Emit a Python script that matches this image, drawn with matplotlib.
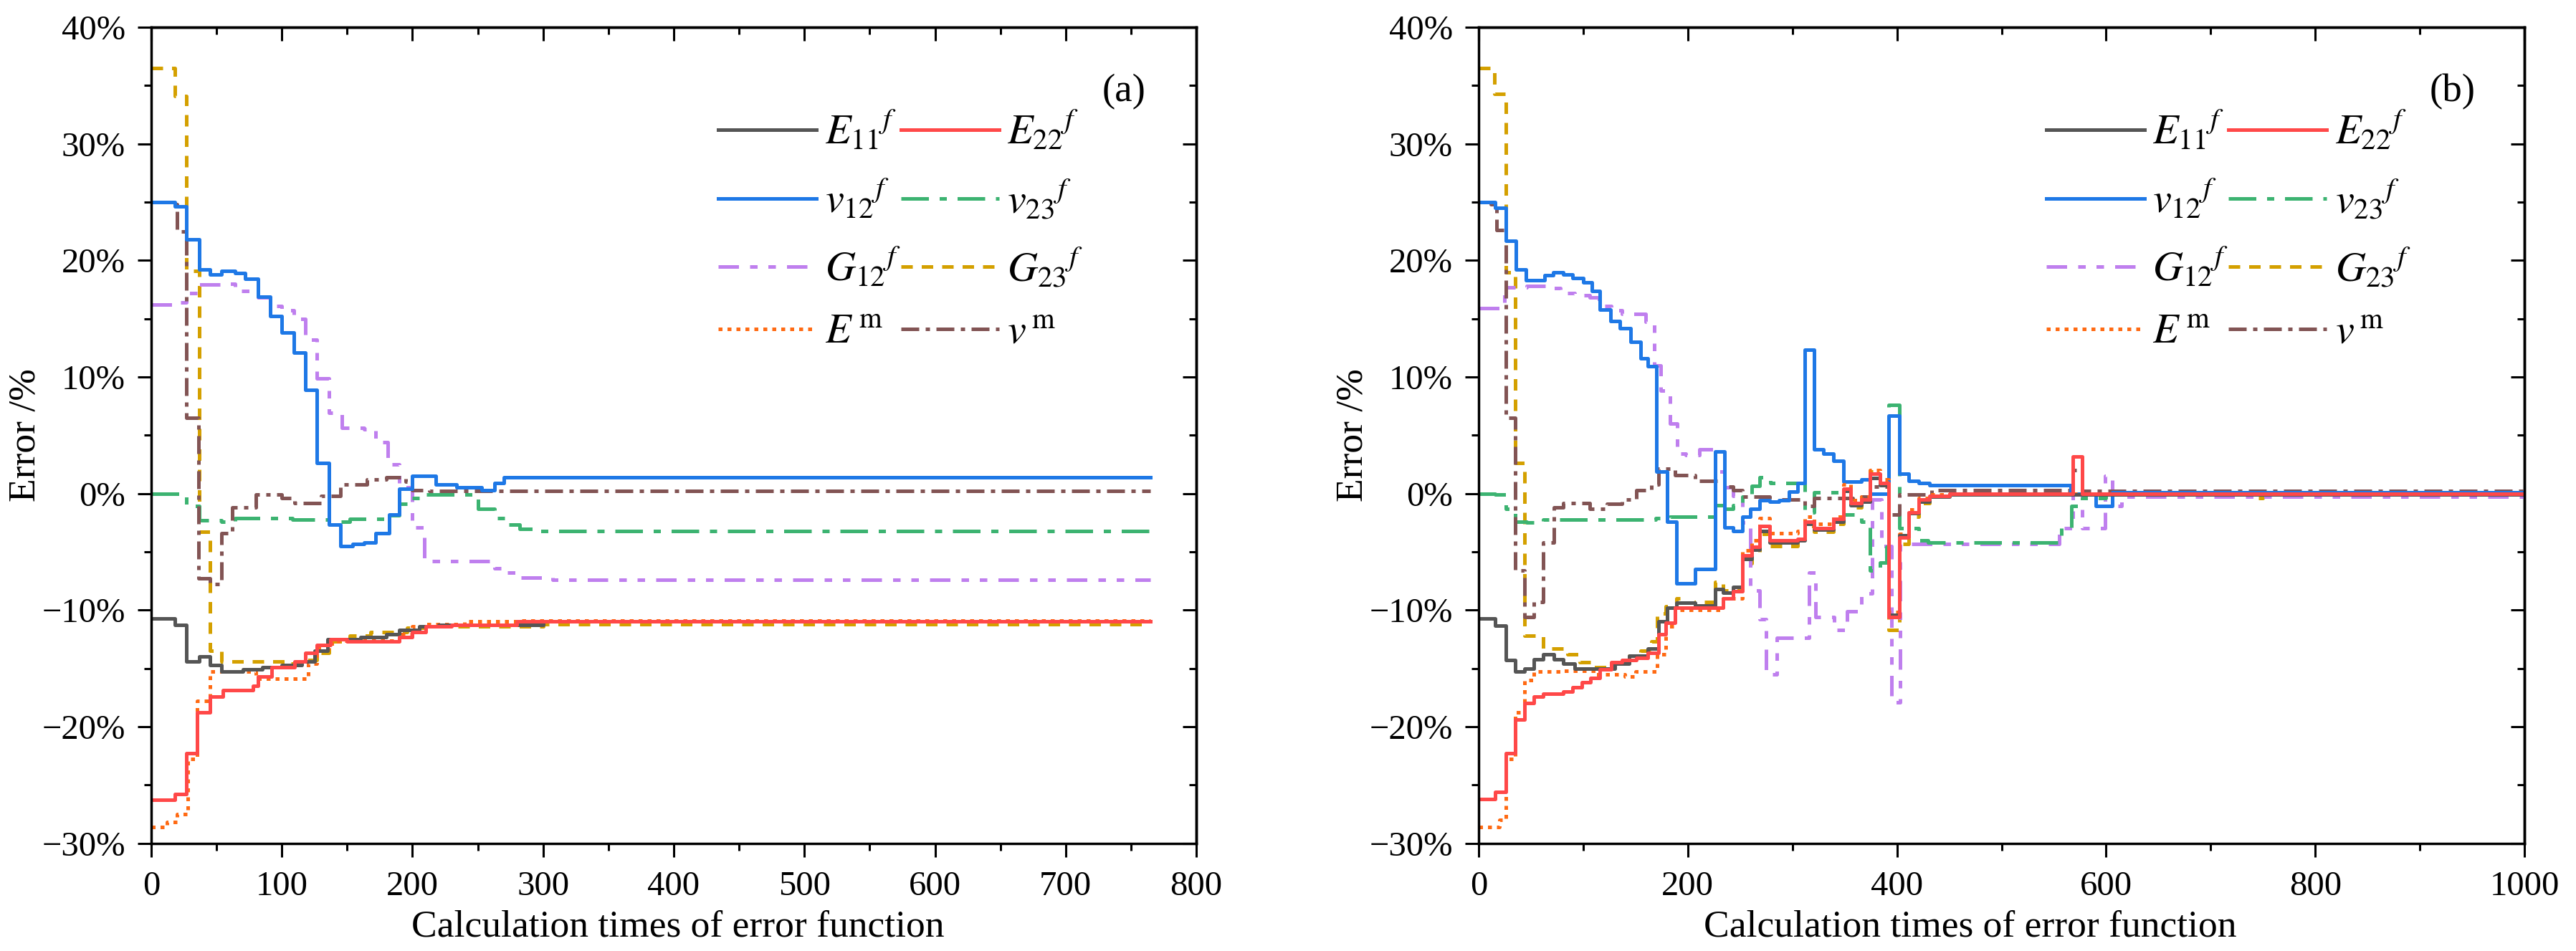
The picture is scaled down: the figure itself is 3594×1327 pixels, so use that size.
import matplotlib
matplotlib.use("Agg")
import matplotlib.pyplot as plt
from matplotlib.ticker import MultipleLocator, PercentFormatter, NullFormatter

plt.rcParams['font.family'] = 'serif'
plt.rcParams['font.serif'] = ['Liberation Serif', 'DejaVu Serif']
plt.rcParams['mathtext.fontset'] = 'stix'

# ---- panel (a) data: breakpoints of step curves (x = calculation count, y = error %)
a_E11_x = [0, 18, 27, 37, 45, 54, 70, 85, 100, 115, 125, 135, 160, 180, 190, 205, 220, 300, 765]
a_E11_y = [-10.7, -11.3, -14.4, -14.0, -14.7, -15.3, -15.1, -14.9, -14.7, -14.4, -13.5, -12.5, -12.3,
           -12.1, -11.7, -11.4, -11.3, -11.0, -11.0]

a_E22_x = [0, 18, 27, 35, 45, 55, 78, 82, 92, 110, 118, 127, 137, 150, 190, 200, 210, 230, 280, 765]
a_E22_y = [-26.3, -25.8, -22.3, -18.8, -17.4, -16.9, -16.5, -15.7, -14.9, -14.4, -13.7, -13.0, -12.5,
           -12.7, -12.3, -11.9, -11.4, -11.3, -11.0, -11.0]

a_v12_x = [0, 18, 27, 37, 45, 54, 64, 72, 82, 91, 100, 109, 118, 127, 136, 145, 154, 163, 172, 182,
           190, 200, 218, 234, 253, 263, 270, 765]
a_v12_y = [25.0, 24.6, 21.8, 19.2, 18.8, 19.1, 18.9, 18.4, 16.9, 15.2, 13.8, 12.1, 8.9, 2.6, -2.7, -4.5,
           -4.3, -4.2, -3.4, -1.8, 0.4, 1.5, 0.8, 0.5, 0.3, 0.9, 1.4, 1.4]

a_v23_x = [0, 27, 37, 54, 64, 108, 136, 152, 181, 190, 200, 209, 250, 263, 272, 282, 295, 765]
a_v23_y = [0.0, -1.1, -2.3, -2.4, -2.1, -2.25, -2.4, -2.2, -1.85, -0.9, -0.4, -0.1, -1.3, -2.1, -2.65,
           -3.05, -3.2, -3.2]

a_G12_x = [0, 20, 27, 37, 54, 64, 82, 91, 100, 109, 118, 127, 136, 146, 163, 172, 181, 190, 200, 209,
           263, 272, 282, 307, 765]
a_G12_y = [16.2, 16.4, 17.2, 17.9, 18.0, 17.4, 16.8, 16.1, 15.7, 15.0, 13.2, 9.9, 6.9, 5.6, 5.5, 4.4,
           2.5, 0.5, -2.9, -5.8, -6.4, -6.8, -7.2, -7.4, -7.4]

a_G23_x = [0, 18, 27, 37, 45, 54, 105, 117, 127, 136, 152, 168, 196, 209, 300, 765]
a_G23_y = [36.5, 34.1, 19.1, -3.3, -13.5, -14.4, -14.6, -14.3, -13.7, -12.7, -12.2, -11.9, -11.5,
           -11.4, -11.2, -11.2]

a_Em_x = [0, 12, 20, 28, 35, 45, 80, 120, 127, 136, 143, 190, 200, 209, 240, 280, 765]
a_Em_y = [-28.6, -28.2, -27.5, -22.8, -17.8, -15.3, -15.9, -14.6, -13.3, -12.9, -12.6, -12.1, -11.4,
          -11.2, -11.0, -10.9, -10.9]

a_vm_x = [0, 15, 20, 27, 36, 45, 54, 62, 80, 100, 110, 130, 145, 165, 180, 195, 200, 213, 765]
a_vm_y = [25.0, 24.8, 22.5, 6.5, -7.3, -7.8, -3.4, -1.2, -0.1, -0.4, -0.8, -0.2, 0.8, 1.2, 1.4, 1.0,
          0.3, 0.2, 0.2]

# ---- panel (b) data
b_E11_x = [0, 16, 26, 35, 44, 53, 62, 72, 81, 92, 116, 130, 144, 162, 172, 180, 189, 207, 226, 234,
           243, 252, 261, 269, 278, 305, 312, 321, 339, 349, 356, 366, 374, 384, 392, 402, 411, 421,
           431, 450, 1000]
b_E11_y = [-10.7, -11.35, -14.3, -15.3, -15.0, -14.2, -13.8, -14.2, -14.6, -15.0, -15.0, -14.6, -13.9,
           -13.3, -11.0, -9.8, -9.4, -9.6, -8.2, -8.5, -8.0, -5.6, -4.8, -3.2, -4.2, -4.0, -2.6, -3.1,
           -2.4, 0.2, -1.0, -0.7, 1.3, 0.7, -10.4, -3.6, -1.7, -0.7, -0.3, -0.1, 0.0]

b_E22_x = [0, 16, 26, 35, 44, 53, 62, 81, 90, 99, 107, 116, 127, 137, 151, 162, 172, 179, 188, 234,
           243, 252, 261, 269, 278, 305, 312, 321, 339, 349, 356, 366, 374, 384, 392, 402, 411, 421,
           431, 450, 568, 577, 1000]
b_E22_y = [-26.2, -25.6, -22.3, -19.4, -18.0, -17.4, -17.2, -17.0, -16.6, -16.2, -15.8, -15.1, -14.5,
           -14.3, -14.1, -13.7, -12.1, -11.1, -9.8, -9.0, -8.4, -5.3, -4.6, -2.8, -4.0, -3.9, -2.4,
           -3.0, -2.2, 0.4, -0.8, -0.5, 1.7, 0.9, -10.6, -3.8, -1.6, -0.5, -0.2, 0.0, 3.2, 0.0, 0.0]

b_v12_x = [0, 16, 26, 36, 45, 63, 71, 81, 90, 100, 108, 116, 126, 135, 145, 155, 162, 170, 180, 189,
           207, 226, 235, 243, 252, 260, 269, 278, 287, 297, 305, 312, 321, 330, 339, 349, 366, 374,
           392, 402, 411, 421, 431, 566, 590, 606, 1000]
b_v12_y = [25.0, 24.5, 21.7, 19.2, 18.3, 18.7, 19.0, 18.8, 18.5, 18.1, 17.4, 15.8, 14.8, 14.2, 13.0,
           11.6, 10.9, 1.9, -2.4, -7.7, -6.5, 3.6, -2.9, -3.2, -2.0, -1.3, -0.55, -0.7, -0.6, 0.15,
           0.9, 12.3, 3.8, 3.4, 2.8, 1.0, 1.2, 0.0, 6.7, 1.7, 1.1, 0.9, 0.7, 0.0, -1.1, 0.1, 0.0]

b_v23_x = [0, 16, 26, 35, 46, 62, 169, 183, 226, 235, 243, 252, 261, 269, 279, 305, 312, 321, 349,
           366, 374, 384, 390, 392, 402, 421, 430, 557, 567, 577, 600, 1000]
b_v23_y = [0.0, -0.1, -1.3, -2.4, -2.5, -2.25, -2.1, -2.0, -1.0, -1.3, -1.0, -0.3, 0.65, 1.4, 0.9,
           0.9, -1.6, 0.1, -1.8, -2.4, -6.6, -5.9, -4.6, 7.6, -3.0, -4.0, -4.2, -3.0, -1.1, -0.4,
           -0.1, -0.1]

b_G12_x = [0, 25, 46, 65, 78, 92, 106, 115, 127, 137, 160, 168, 174, 183, 190, 198, 211, 226, 235,
           243, 252, 260, 269, 275, 285, 316, 322, 340, 352, 366, 376, 385, 395, 403, 555, 568, 577,
           599, 606, 615, 1000]
b_G12_y = [15.9, 17.7, 17.8, 17.6, 17.2, 17.0, 16.8, 16.1, 15.7, 15.4, 14.7, 11.0, 8.8, 6.0, 3.4,
           3.3, 3.8, 1.9, 0.5, -0.2, -2.5, -8.3, -10.8, -15.5, -12.4, -6.8, -10.6, -11.7, -10.1,
           -8.6, -0.5, -4.5, -17.9, -4.3, -3.0, 2.9, -3.0, 1.5, -1.1, -0.3, -0.3]

b_G23_x = [0, 15, 26, 35, 44, 62, 85, 97, 109, 130, 144, 155, 165, 171, 179, 189, 198, 207, 226,
           234, 252, 261, 269, 278, 305, 312, 321, 339, 349, 356, 366, 374, 384, 392, 402, 411, 421,
           431, 450, 745, 750, 1000]
b_G23_y = [36.5, 34.3, 19.0, 2.6, -12.2, -13.3, -13.8, -14.5, -14.9, -14.5, -13.9, -13.5, -12.7,
           -10.3, -9.7, -9.0, -9.4, -9.3, -7.6, -8.3, -6.0, -5.2, -3.5, -4.5, -4.2, -2.8, -3.3, -2.6,
           0.0, -1.2, -0.4, 1.9, 0.8, -11.7, -4.3, -2.0, -0.8, -0.3, -0.1, -0.4, 0.0, 0.0]

b_Em_x = [0, 20, 26, 35, 44, 53, 81, 110, 140, 150, 171, 179, 188, 234, 252, 261, 269, 278, 305, 312,
          321, 339, 349, 356, 366, 374, 384, 392, 402, 411, 421, 431, 450, 1000]
b_Em_y = [-28.6, -28.0, -22.8, -18.8, -16.0, -15.3, -15.2, -15.5, -15.7, -15.3, -13.8, -11.4, -10.0,
          -9.0, -4.9, -4.0, -2.1, -3.4, -3.2, -2.0, -2.6, -2.0, 0.8, -0.6, -0.3, 2.0, 1.2, -10.2,
          -3.5, -1.4, -0.4, -0.1, 0.0, 0.0]

b_vm_x = [0, 12, 17, 26, 35, 44, 53, 62, 72, 81, 106, 123, 137, 151, 165, 172, 188, 207, 235, 243,
          252, 278, 287, 312, 321, 358, 366, 374, 392, 402, 433, 568, 577, 1000]
b_vm_y = [25.0, 24.8, 22.6, 6.5, -6.6, -10.6, -9.3, -4.2, -1.2, -0.8, -1.3, -0.9, -0.5, 0.3, 0.8,
          2.1, 1.6, 1.1, 0.6, 0.3, -0.3, -0.7, -0.5, -1.1, -0.4, -0.9, -0.25, 0.6, -1.8, -0.1, 0.3,
          2.0, 0.2, 0.2]

labels = [r'$E_{11}{}^{f}$', r'$E_{22}{}^{f}$', r'$v_{12}{}^{f}$', r'$v_{23}{}^{f}$',
          r'$G_{12}{}^{f}$', r'$G_{23}{}^{f}$', r'$E^{\,\mathrm{m}}$', r'$v^{\,\mathrm{m}}$']

styles = [
    dict(color='#555555', linestyle='-'),
    dict(color='#ff4848', linestyle='-'),
    dict(color='#1e78e6', linestyle='-'),
    dict(color='#3cb371', linestyle=(0, (7.7, 3, 2, 3))),
    dict(color='#bf7fee', linestyle=(0, (5.7, 3.1, 2.1, 3.0, 2.1, 3.1))),
    dict(color='#d4a000', linestyle=(0, (3.2, 2.5))),
    dict(color='#ff6a13', linestyle=(0, (1.1, 1.4))),
    dict(color='#825454', linestyle=(0, (5, 1.8, 1.2, 1.8))),
]

panel_a = [(a_E11_x, a_E11_y), (a_E22_x, a_E22_y), (a_v12_x, a_v12_y), (a_v23_x, a_v23_y),
           (a_G12_x, a_G12_y), (a_G23_x, a_G23_y), (a_Em_x, a_Em_y), (a_vm_x, a_vm_y)]
panel_b = [(b_E11_x, b_E11_y), (b_E22_x, b_E22_y), (b_v12_x, b_v12_y), (b_v23_x, b_v23_y),
           (b_G12_x, b_G12_y), (b_G23_x, b_G23_y), (b_Em_x, b_Em_y), (b_vm_x, b_vm_y)]

tick_fs = 35
label_fs = 38.5
leg_fs = 42
DPI = 100

fig = plt.figure(figsize=(35.94, 13.27), dpi=DPI)
ax1 = fig.add_axes([0.0587, 0.1134, 0.4057, 0.858])
ax2 = fig.add_axes([0.5740, 0.1134, 0.4060, 0.858])

# drawing order so the E curves sit on top like the reference
order = [5, 4, 3, 7, 2, 6, 0, 1]
# column-major order so the legend reads E11 E22 / v12 v23 / G12 G23 / Em vm
leg_order = [0, 2, 4, 6, 1, 3, 5, 7]

legend_specs = []
for ax, data, xmax, xstep, tag, xlab_x in [(ax1, panel_a, 800, 100, '(a)', 0.504),
                                           (ax2, panel_b, 1000, 200, '(b)', 0.470)]:
    handles = [None] * 8
    for i in order:
        xs, ys = data[i]
        ln, = ax.plot(xs, ys, drawstyle='steps-post', lw=3.6, label=labels[i], **styles[i])
        handles[i] = ln
    ax.set_xlim(0, xmax)
    ax.set_ylim(-30, 40)
    ax.xaxis.set_major_locator(MultipleLocator(xstep))
    ax.xaxis.set_minor_locator(MultipleLocator(xstep / 2))
    ax.yaxis.set_major_locator(MultipleLocator(10))
    ax.yaxis.set_minor_locator(MultipleLocator(5))
    ax.yaxis.set_major_formatter(PercentFormatter(decimals=0))
    ax.tick_params(which='both', labelsize=tick_fs, width=2.2, direction='out')
    ax.tick_params(axis='x', which='both', pad=14)
    ax.tick_params(axis='y', which='both', pad=12)
    ax.tick_params(which='major', length=14)
    ax.tick_params(which='minor', length=7)
    for spine in ax.spines.values():
        spine.set_linewidth(2.5)
    ax.set_xlabel('Calculation times of error function', fontsize=label_fs)
    ax.set_ylabel('Error /%', fontsize=label_fs)
    ax.xaxis.set_label_coords(xlab_x, -0.082)
    ax.yaxis.set_label_coords(-0.104, 0.5)
    ax.text(0.931, 0.921, tag, transform=ax.transAxes, fontsize=label_fs + 1, ha='center', va='center')

    # top and right ticks point inward, no labels
    top = ax.secondary_xaxis('top')
    top.xaxis.set_major_locator(MultipleLocator(xstep))
    top.xaxis.set_minor_locator(MultipleLocator(xstep / 2))
    top.xaxis.set_major_formatter(NullFormatter())
    top.tick_params(which='both', direction='in', width=2.2)
    top.tick_params(which='major', length=14)
    top.tick_params(which='minor', length=7)
    top.spines['top'].set_linewidth(2.5)
    right = ax.secondary_yaxis('right')
    right.yaxis.set_major_locator(MultipleLocator(10))
    right.yaxis.set_minor_locator(MultipleLocator(5))
    right.yaxis.set_major_formatter(NullFormatter())
    right.tick_params(which='both', direction='in', width=2.2)
    right.tick_params(which='major', length=14)
    right.tick_params(which='minor', length=7)
    right.spines['right'].set_linewidth(2.5)

    legend_specs.append((ax, [handles[k] for k in leg_order], [labels[k] for k in leg_order]))

# legend: row pitch ~94 px, first row centred ~183 px from the top, handles start 0.5425 across
target_pitch = 94.0
target_first = fig.bbox.height - 183.0
fs_px = leg_fs * DPI / 72.0
for ax, hs, ls_ in legend_specs:
    spacing, ytop = 0.35, 0.905
    for _ in range(3):
        leg = ax.legend(hs, ls_, ncol=2, loc='upper left', bbox_to_anchor=(0.5425, ytop),
                        frameon=False, fontsize=leg_fs, handlelength=2.35, handletextpad=0.2,
                        columnspacing=0.0, labelspacing=spacing, borderpad=0, borderaxespad=0)
        fig.canvas.draw()
        tx = leg.get_texts()
        cy = [(t.get_window_extent().y0 + t.get_window_extent().y1) / 2 for t in tx[:4]]
        pitch = (cy[0] - cy[3]) / 3.0
        spacing += (target_pitch - pitch) / fs_px
        ytop += (target_first - cy[0]) / ax.bbox.height

fig.savefig('out.png', dpi=DPI)
